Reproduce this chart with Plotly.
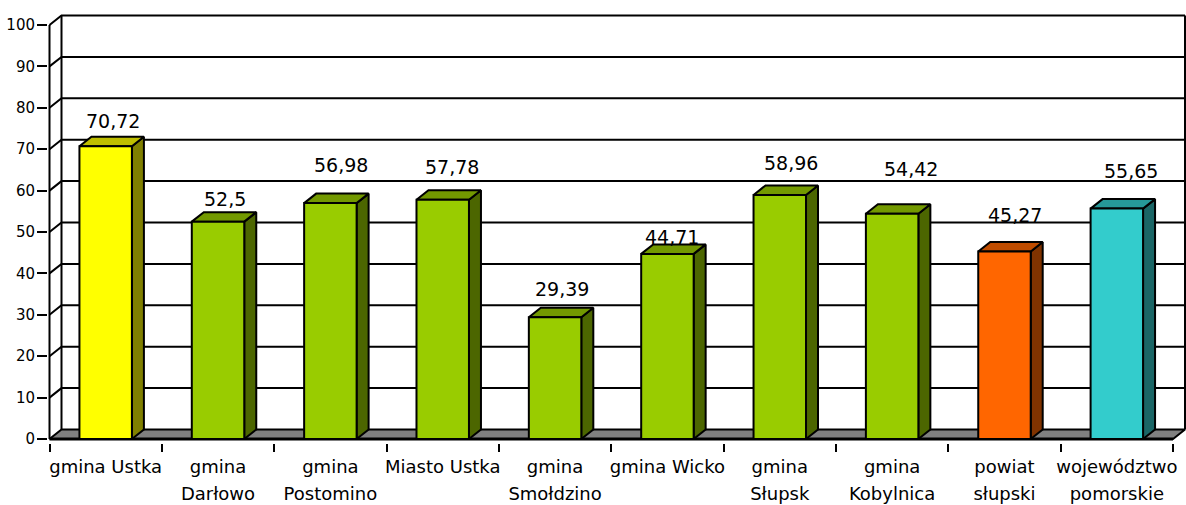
import plotly.graph_objects as go

# ---------------- data ----------------
categories = ["gmina Ustka", "gmina Darłowo", "gmina Postomino", "Miasto Ustka",
              "gmina Smołdzino", "gmina Wicko", "gmina Słupsk", "gmina Kobylnica",
              "powiat słupski", "województwo pomorskie"]
label_line1 = ["gmina Ustka", "gmina", "gmina", "Miasto Ustka", "gmina",
               "gmina Wicko", "gmina", "gmina", "powiat", "województwo"]
label_line2 = ["", "Darłowo", "Postomino", "", "Smołdzino",
               "", "Słupsk", "Kobylnica", "słupski", "pomorskie"]
values = [70.72, 52.5, 56.98, 57.78, 29.39, 44.71, 58.96, 54.42, 45.27, 55.65]
y_ticks = [0, 10, 20, 30, 40, 50, 60, 70, 80, 90, 100]

# ---------------- style ----------------
palette = {
    "yellow": ("#FFFF00", "#BFBF00", "#808000"),
    "green": ("#99CC00", "#739900", "#4C6600"),
    "orange": ("#FF6600", "#BF4C00", "#803300"),
    "cyan": ("#33CCCC", "#269999", "#1A6666"),
}
bar_colors = ["yellow"] + ["green"] * 7 + ["orange", "cyan"]
label_dx_px = [7, 7, 11, 9, 7, 5, 11, 19, 11, 14]
label_dy_px = [25, 23, 38, 33, 28, 17, 32, 45, 37, 38]

W, H = 1186, 505
PX_PER_X = 112.35         # pixels per category
PX_PER_Y = 4.14           # pixels per value unit
X0_PX, Y0_PX = 49.5, 439  # pixel position of front-left-bottom corner
DEPTH_PX = (12, 9.5)      # 3D depth offset in pixels
BAR_W = 0.467

DX = DEPTH_PX[0] / PX_PER_X
DY = DEPTH_PX[1] / PX_PER_Y
n = len(values)
XL, XR = -0.5, n - 0.5

m_l, m_r, m_t, m_b = 48, 0, 12, 62
plot_w = W - m_l - m_r
plot_h = H - m_t - m_b
x_lo = XL - (X0_PX - m_l) / PX_PER_X
x_hi = x_lo + plot_w / PX_PER_X
y_lo = -((H - m_b) - Y0_PX) / PX_PER_Y
y_hi = y_lo + plot_h / PX_PER_Y

FONT = "DejaVu Sans"

fig = go.Figure()


def poly(xs, ys, fill, width=2):
    fig.add_trace(go.Scatter(x=xs + [xs[0]], y=ys + [ys[0]], mode="lines",
                             fill="toself", fillcolor=fill,
                             line=dict(color="black", width=width),
                             hoverinfo="skip", showlegend=False))


def lines(xs, ys, width=2):
    fig.add_trace(go.Scatter(x=xs, y=ys, mode="lines",
                             line=dict(color="black", width=width),
                             hoverinfo="skip", showlegend=False))


# back wall gridlines (with the diagonal from the front axis)
gx, gy = [], []
for v in y_ticks[1:]:
    gx += [XL, XL + DX, XR + DX, None]
    gy += [v, v + DY, v + DY, None]
lines(gx, gy)
# back wall verticals
lines([XL + DX, XL + DX, None, XR + DX, XR + DX],
      [DY, 100 + DY, None, DY, 100 + DY])

# floor
poly([XL, XR, XR + DX, XL + DX], [0, 0, DY, DY], "#808080")
lines([XL, XR], [0, 0], width=3)

# front value axis
lines([XL, XL], [0, 100])

# bars
for i, (v, c) in enumerate(zip(values, bar_colors)):
    front, top, side = palette[c]
    a, b = i - BAR_W / 2, i + BAR_W / 2
    poly([b, b + DX, b + DX, b], [0, DY, v + DY, v], side)
    poly([a, b, b + DX, a + DX], [v, v, v + DY, v + DY], top)
    poly([a, b, b, a], [0, 0, v, v], front)
    fig.add_annotation(x=i, y=v, text=str(v).replace(".", ","),
                       showarrow=False, xshift=label_dx_px[i],
                       yshift=label_dy_px[i],
                       font=dict(family=FONT, size=19, color="black"))

centers = list(range(n))
fig.update_layout(
    width=W, height=H,
    margin=dict(l=m_l, r=m_r, t=m_t, b=m_b),
    plot_bgcolor="white", paper_bgcolor="white",
    showlegend=False,
    font=dict(family=FONT, color="black"),
    xaxis=dict(range=[x_lo, x_hi], tickmode="array", tickvals=centers,
               ticktext=label_line1, ticks="", showgrid=False, zeroline=False,
               showline=False, ticklabelstandoff=11,
               tickfont=dict(family=FONT, size=18, color="black")),
    xaxis2=dict(range=[x_lo, x_hi], overlaying="x", anchor="y", side="bottom",
                tickmode="array", tickvals=[k - 0.5 for k in range(n + 1)],
                showticklabels=False, ticks="outside", ticklen=8, tickwidth=2,
                tickcolor="black", showgrid=False, zeroline=False, showline=False),
    xaxis3=dict(range=[x_lo, x_hi], overlaying="x", anchor="y", side="bottom",
                tickmode="array", tickvals=centers, ticktext=label_line2,
                ticks="", showgrid=False, zeroline=False, showline=False,
                ticklabelstandoff=38,
                tickfont=dict(family=FONT, size=18, color="black")),
    yaxis=dict(range=[y_lo, y_hi], tickmode="array", tickvals=y_ticks,
               ticks="outside", ticklen=10, tickwidth=2, tickcolor="black",
               showgrid=False, zeroline=False, showline=False,
               ticklabelstandoff=-1,
               tickfont=dict(family=FONT, size=15, color="black")),
)
# dummy traces to activate overlay axes
fig.add_trace(go.Scatter(x=[0], y=[0], xaxis="x2", mode="markers",
                         marker=dict(opacity=0), hoverinfo="skip", showlegend=False))
fig.add_trace(go.Scatter(x=[0], y=[0], xaxis="x3", mode="markers",
                         marker=dict(opacity=0), hoverinfo="skip", showlegend=False))

fig.write_html("out.html", config={"displayModeBar": False},
               post_script="document.body.style.margin='0';"
                           "document.body.style.overflow='hidden';")
